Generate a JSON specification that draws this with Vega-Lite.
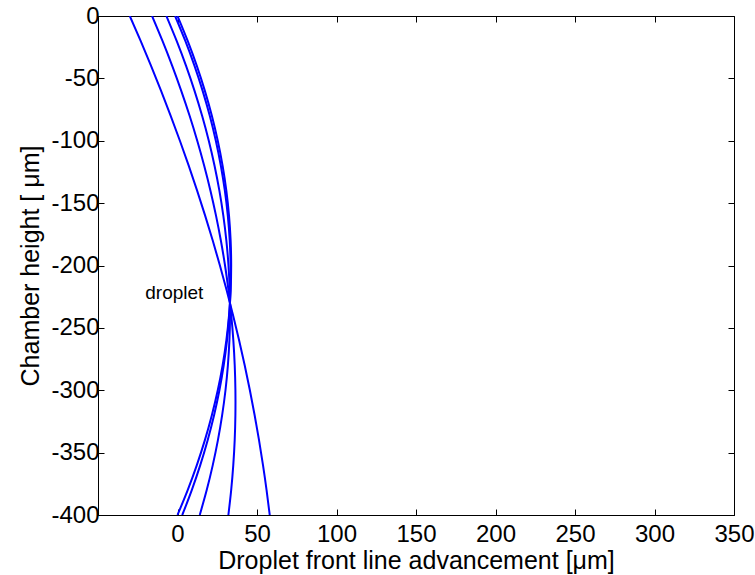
{
  "$schema": "https://vega.github.io/schema/vega-lite/v6.json",
  "width": 636,
  "height": 499,
  "autosize": {"type": "none"},
  "padding": {"left": 98, "top": 16, "right": 21, "bottom": 60},
  "background": "white",
  "config": {
    "view": {"stroke": "black", "strokeWidth": 1},
    "font": "Liberation Sans",
    "axis": {
      "grid": false,
      "domainColor": "black",
      "tickColor": "black",
      "tickSize": -6,
      "labelColor": "black",
      "titleColor": "black",
      "labelFont": "Liberation Sans",
      "titleFont": "Liberation Sans",
      "labelFontSize": 24,
      "titleFontSize": 25,
      "titleFontWeight": "normal"
    }
  },
  "datasets": {
    "fronts": [
      {"curve": 1, "y": 0, "x": -30.0}, {"curve": 1, "y": -20, "x": -23.18}, {"curve": 1, "y": -40, "x": -16.63}, {"curve": 1, "y": -60, "x": -10.32}, {"curve": 1, "y": -80, "x": -4.28}, {"curve": 1, "y": -100, "x": 1.51}, {"curve": 1, "y": -120, "x": 7.05}, {"curve": 1, "y": -140, "x": 12.34}, {"curve": 1, "y": -160, "x": 17.38}, {"curve": 1, "y": -180, "x": 22.16}, {"curve": 1, "y": -200, "x": 26.68}, {"curve": 1, "y": -220, "x": 30.96}, {"curve": 1, "y": -240, "x": 34.98}, {"curve": 1, "y": -260, "x": 38.74}, {"curve": 1, "y": -280, "x": 42.26}, {"curve": 1, "y": -300, "x": 45.52}, {"curve": 1, "y": -320, "x": 48.52}, {"curve": 1, "y": -340, "x": 51.27}, {"curve": 1, "y": -360, "x": 53.77}, {"curve": 1, "y": -380, "x": 56.02}, {"curve": 1, "y": -400, "x": 58.0},
      {"curve": 2, "y": 0, "x": -16.0}, {"curve": 2, "y": -20, "x": -9.44}, {"curve": 2, "y": -40, "x": -3.32}, {"curve": 2, "y": -60, "x": 2.36}, {"curve": 2, "y": -80, "x": 7.62}, {"curve": 2, "y": -100, "x": 12.42}, {"curve": 2, "y": -120, "x": 16.79}, {"curve": 2, "y": -140, "x": 20.73}, {"curve": 2, "y": -160, "x": 24.22}, {"curve": 2, "y": -180, "x": 27.27}, {"curve": 2, "y": -200, "x": 29.9}, {"curve": 2, "y": -220, "x": 32.08}, {"curve": 2, "y": -240, "x": 33.82}, {"curve": 2, "y": -260, "x": 35.12}, {"curve": 2, "y": -280, "x": 35.99}, {"curve": 2, "y": -300, "x": 36.42}, {"curve": 2, "y": -320, "x": 36.41}, {"curve": 2, "y": -340, "x": 35.97}, {"curve": 2, "y": -360, "x": 35.08}, {"curve": 2, "y": -380, "x": 33.76}, {"curve": 2, "y": -400, "x": 32.0},
      {"curve": 3, "y": 0, "x": -7.0}, {"curve": 3, "y": -20, "x": -0.53}, {"curve": 3, "y": -40, "x": 5.39}, {"curve": 3, "y": -60, "x": 10.72}, {"curve": 3, "y": -80, "x": 15.48}, {"curve": 3, "y": -100, "x": 19.68}, {"curve": 3, "y": -120, "x": 23.3}, {"curve": 3, "y": -140, "x": 26.34}, {"curve": 3, "y": -160, "x": 28.82}, {"curve": 3, "y": -180, "x": 30.73}, {"curve": 3, "y": -200, "x": 32.07}, {"curve": 3, "y": -220, "x": 32.83}, {"curve": 3, "y": -240, "x": 33.03}, {"curve": 3, "y": -260, "x": 32.65}, {"curve": 3, "y": -280, "x": 31.69}, {"curve": 3, "y": -300, "x": 30.18}, {"curve": 3, "y": -320, "x": 28.08}, {"curve": 3, "y": -340, "x": 25.42}, {"curve": 3, "y": -360, "x": 22.18}, {"curve": 3, "y": -380, "x": 18.38}, {"curve": 3, "y": -400, "x": 14.0},
      {"curve": 4, "y": 0, "x": -1.5}, {"curve": 4, "y": -20, "x": 4.93}, {"curve": 4, "y": -40, "x": 10.71}, {"curve": 4, "y": -60, "x": 15.82}, {"curve": 4, "y": -80, "x": 20.3}, {"curve": 4, "y": -100, "x": 24.11}, {"curve": 4, "y": -120, "x": 27.27}, {"curve": 4, "y": -140, "x": 29.78}, {"curve": 4, "y": -160, "x": 31.64}, {"curve": 4, "y": -180, "x": 32.85}, {"curve": 4, "y": -200, "x": 33.4}, {"curve": 4, "y": -220, "x": 33.3}, {"curve": 4, "y": -240, "x": 32.54}, {"curve": 4, "y": -260, "x": 31.14}, {"curve": 4, "y": -280, "x": 29.07}, {"curve": 4, "y": -300, "x": 26.36}, {"curve": 4, "y": -320, "x": 23.0}, {"curve": 4, "y": -340, "x": 18.97}, {"curve": 4, "y": -360, "x": 14.31}, {"curve": 4, "y": -380, "x": 8.98}, {"curve": 4, "y": -400, "x": 3.0},
      {"curve": 5, "y": 0, "x": 0.0}, {"curve": 5, "y": -20, "x": 6.41}, {"curve": 5, "y": -40, "x": 12.15}, {"curve": 5, "y": -60, "x": 17.22}, {"curve": 5, "y": -80, "x": 21.61}, {"curve": 5, "y": -100, "x": 25.32}, {"curve": 5, "y": -120, "x": 28.36}, {"curve": 5, "y": -140, "x": 30.72}, {"curve": 5, "y": -160, "x": 32.4}, {"curve": 5, "y": -180, "x": 33.42}, {"curve": 5, "y": -200, "x": 33.76}, {"curve": 5, "y": -220, "x": 33.43}, {"curve": 5, "y": -240, "x": 32.41}, {"curve": 5, "y": -260, "x": 30.72}, {"curve": 5, "y": -280, "x": 28.36}, {"curve": 5, "y": -300, "x": 25.32}, {"curve": 5, "y": -320, "x": 21.6}, {"curve": 5, "y": -340, "x": 17.22}, {"curve": 5, "y": -360, "x": 12.16}, {"curve": 5, "y": -380, "x": 6.41}, {"curve": 5, "y": -400, "x": 0.0}
    ],
    "notes": [
      {"x": -2, "y": -222, "label": "droplet"}
    ]
  },
  "layer": [
    {
      "data": {"name": "fronts"},
      "mark": {"type": "line", "color": "#0000ff", "strokeWidth": 2, "interpolate": "natural", "clip": true},
      "encoding": {
        "x": {
          "field": "x", "type": "quantitative",
          "scale": {"domain": [-50, 350], "nice": false, "zero": false},
          "axis": {"orient": "bottom", "values": [0, 50, 100, 150, 200, 250, 300, 350], "title": "Droplet front line advancement [μm]", "labelPadding": 13, "titlePadding": 2, "labelFlush": false}
        },
        "y": {
          "field": "y", "type": "quantitative",
          "scale": {"domain": [-400, 0], "nice": false, "zero": false},
          "axis": {"orient": "left", "values": [-400, -350, -300, -250, -200, -150, -100, -50, 0], "labelExpr": "'' + datum.value", "title": "Chamber height [ μm]", "labelPadding": 5, "titlePadding": 7, "labelFlush": false}
        },
        "detail": {"field": "curve", "type": "nominal"},
        "order": {"field": "y", "type": "quantitative", "sort": "descending"}
      }
    },
    {
      "data": {"name": "notes"},
      "mark": {"type": "text", "fontSize": 19, "font": "Liberation Sans", "color": "black", "align": "center", "baseline": "middle"},
      "encoding": {
        "x": {
          "field": "x", "type": "quantitative",
          "axis": {"orient": "top", "values": [0, 50, 100, 150, 200, 250, 300, 350], "labels": false, "title": null, "domain": false}
        },
        "y": {
          "field": "y", "type": "quantitative",
          "axis": {"orient": "right", "values": [-400, -350, -300, -250, -200, -150, -100, -50, 0], "labels": false, "title": null, "domain": false}
        },
        "text": {"field": "label"}
      }
    }
  ],
  "resolve": {"axis": {"x": "independent", "y": "independent"}}
}
